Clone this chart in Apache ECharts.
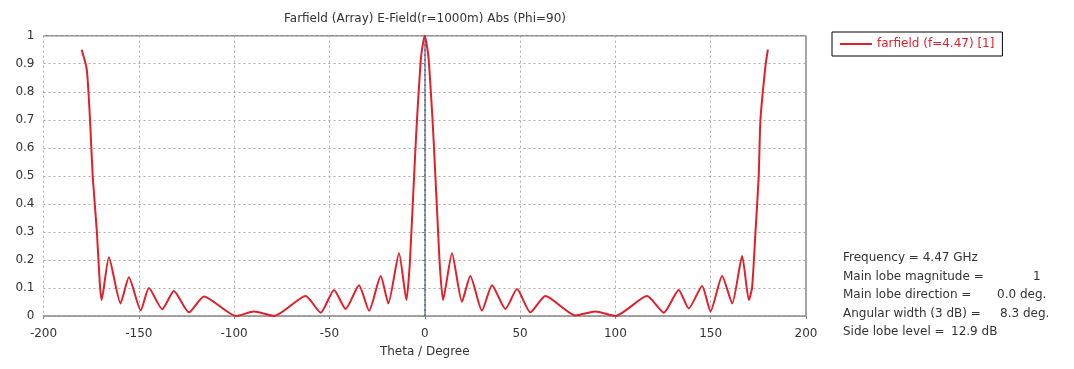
<html lang="en">
<head>
    <meta charset="UTF-8">
    <title>Farfield</title>
    <script src="https://cdn.jsdelivr.net/npm/echarts@6/dist/echarts.min.js"></script>
    <style>
        body { margin: 0; background: #fff; }
    </style>
</head>
<body>
    <div id="main" style="width: 1074px;height: 369px"></div>
    <script type="text/javascript">
        // theta (deg) and |E|
        var theta = [-180, -177.3, -175.6, -174.2, -172, -170.5, -169.5, -165.7, -159.6, -155.2, -149, -144.7,
            -137.7, -131.6, -123.7, -115.8, -99, -89.6, -79, -62.5, -54.6, -47.6, -41.5, -34.5, -29.2, -23.1,
            -19.1, -13.5, -9.6, -8, -7, -6, -5, -4, -3, -2, -1, 0, 1, 2, 3, 4, 5, 6, 7, 8, 9.6,
            14.3, 19.5, 23.9, 30, 35.3, 42.3, 48.4, 55.4, 63.3, 79, 89.5, 100, 116.6, 125.4, 133.2, 138.5,
            145.5, 149.9, 156, 161.3, 166.5, 170, 171.7, 173.5, 175.2, 176.1, 178.7, 180];
        var field = [0.95, 0.88, 0.70, 0.50, 0.30, 0.12, 0.057, 0.21, 0.045, 0.138, 0.02, 0.10,
            0.024, 0.089, 0.013, 0.07, 0.0, 0.016, 0.0, 0.071, 0.012, 0.093, 0.025, 0.11, 0.019, 0.143,
            0.045, 0.224, 0.057, 0.17, 0.30, 0.44, 0.58, 0.71, 0.82, 0.92, 0.97, 1.0, 0.97, 0.92, 0.82, 0.71, 0.58, 0.44, 0.30, 0.17, 0.057,
            0.224, 0.051, 0.143, 0.019, 0.11, 0.025, 0.096, 0.013, 0.071, 0.002, 0.016, 0.0, 0.071, 0.012, 0.093, 0.027,
            0.107, 0.016, 0.143, 0.045, 0.214, 0.057, 0.10, 0.30, 0.50, 0.70, 0.89, 0.95];
        var infoLabels = ['Frequency = 4.47 GHz', 'Main lobe magnitude =', 'Main lobe direction =', 'Angular width (3 dB) =', 'Side lobe level ='];
        var infoValues = ['', '1', '0.0 deg.', '8.3 deg.', '12.9 dB'];
        var infoValueX = [0, 190, 154, 157, 108];

        var myChart = echarts.init(document.getElementById('main'));
        var font = 'DejaVu Sans';
        var points = theta.map(function (t, i) { return [t, field[i]]; });

        var graphics = [];
        infoLabels.forEach(function (s, i) {
            graphics.push({ type: 'text', left: 843, top: 252 + i * 18.5,
                style: { text: s, font: '12px ' + font, fill: '#333' } });
            if (infoValues[i]) {
                graphics.push({ type: 'text', left: 843 + infoValueX[i], top: 252 + i * 18.5,
                    style: { text: infoValues[i], font: '12px ' + font, fill: '#333' } });
            }
        });

        var option = {
            animation: false,
            title: {
                text: 'Farfield (Array) E-Field(r=1000m) Abs (Phi=90)',
                left: 420, textAlign: 'center', top: 8,
                textStyle: { fontFamily: font, fontSize: 12, fontWeight: 'normal', color: '#333' }
            },
            legend: {
                left: 832, top: 32,
                padding: [6, 8, 6, 8],
                borderColor: '#000', borderWidth: 1,
                itemWidth: 32, itemHeight: 2,
                icon: 'rect',
                textStyle: { fontFamily: font, fontSize: 12, color: '#e0202a' },
                data: ['farfield (f=4.47) [1]']
            },
            grid: { left: 43.5, right: 268, top: 35.7, bottom: 53 },
            xAxis: {
                type: 'value', min: -200, max: 200, interval: 50,
                name: 'Theta / Degree', nameLocation: 'middle', nameGap: 30,
                nameTextStyle: { fontFamily: font, fontSize: 12, color: '#333' },
                axisLine: { lineStyle: { color: '#888', width: 1.5 } },
                axisTick: { show: true, length: 3, lineStyle: { color: '#888' } },
                axisLabel: { fontFamily: font, fontSize: 12, color: '#333', margin: 12 },
                splitLine: { lineStyle: { color: '#aaa', type: [2, 3] } }
            },
            yAxis: {
                type: 'value', min: 0, max: 1, interval: 0.1,
                axisLine: { show: true, lineStyle: { color: '#888', width: 1.5 } },
                axisTick: { show: true, length: 3, lineStyle: { color: '#888' } },
                axisLabel: { fontFamily: font, fontSize: 12, color: '#333', margin: 9 },
                splitLine: { lineStyle: { color: '#aaa', type: [2, 3] } }
            },
            graphic: [
                { type: 'rect', shape: { x: 806, y: 35.7, width: 0, height: 280 }, style: { stroke: '#888', lineWidth: 1.5 } },
                { type: 'rect', shape: { x: 43.5, y: 35.7, width: 762.5, height: 0 }, style: { stroke: '#888', lineWidth: 1.5 } }
            ].concat(graphics),
            series: [{
                name: 'farfield (f=4.47) [1]',
                type: 'line',
                data: points,
                showSymbol: false,
                smooth: 0.2,
                lineStyle: { color: '#e0202a', width: 2 },
                itemStyle: { color: '#e0202a' },
                markLine: {
                    silent: true, symbol: 'none', label: { show: false },
                    lineStyle: { color: '#4a6cc8', type: [2, 3], width: 1.5 },
                    data: [{ xAxis: 0 }]
                }
            }]
        };
        myChart.setOption(option);
    </script>
</body>
</html>
